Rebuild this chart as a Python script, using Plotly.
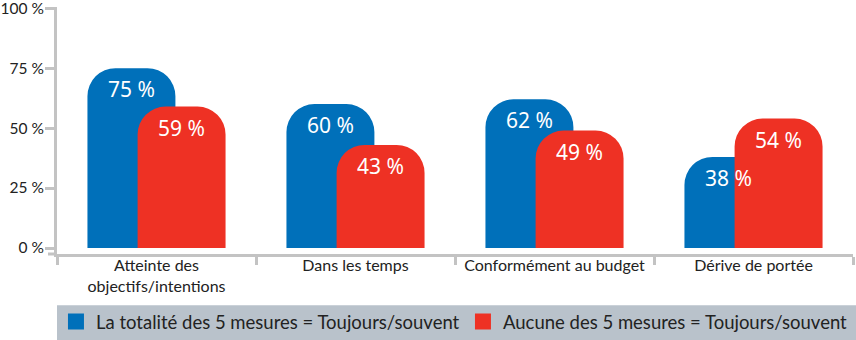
import plotly.graph_objects as go

categories = ["Atteinte des<br>objectifs/intentions", "Dans les temps",
              "Conformément au budget", "Dérive de portée"]
series_names = ["La totalité des 5 mesures = Toujours/souvent",
                "Aucune des 5 mesures = Toujours/souvent"]
blue_values = [75, 60, 62, 38]
red_values = [59, 43, 49, 54]
y_tick_values = [0, 25, 50, 75, 100]
y_tick_labels = ["0 %", "25 %", "50 %", "75 %", "100 %"]

BLUE = "#0070BA"
RED = "#EE3124"
AXIS = "#C3C3C3"
LEGEND_BG = "#B9C2CB"
FONT = "Lato"
LABEL_FONT = "Noto Sans"

BAR_W = 0.442
series = [(series_names[0], blue_values, BLUE, -0.347, "legend"),
          (series_names[1], red_values, RED, -0.095, "legend2")]

fig = go.Figure()
annotations = []
for name, vals, color, off, leg in series:
    fig.add_trace(go.Bar(
        x=categories, y=vals, name=name, showlegend=False,
        width=BAR_W, offset=off,
        marker=dict(color=color, line=dict(width=0), cornerradius=28),
        hoverinfo="x+y",
    ))
    fig.add_trace(go.Scatter(
        x=[None], y=[None], mode="markers", name=name, legend=leg,
        marker=dict(symbol="square", size=16, color=color),
    ))
    # px shift of bar centre from category centre (category width ~199 px)
    shift = (off + BAR_W / 2) * 199
    for c, v in zip(categories, vals):
        annotations.append(dict(
            x=c, y=v, xref="x", yref="y", text=f"{v} %", showarrow=False,
            xshift=shift, yshift=-21, yanchor="middle", xanchor="center",
            font=dict(color="white", size=21, family=LABEL_FONT),
        ))

leg_common = dict(orientation="h", yref="container", y=0.053, yanchor="middle",
                  xanchor="left", bgcolor="rgba(0,0,0,0)",
                  font=dict(size=18.5, color="#222222"), itemsizing="trace")

fig.update_layout(
    width=856, height=340,
    margin=dict(l=57, r=3, t=7, b=86, autoexpand=False),
    barmode="overlay",
    plot_bgcolor="white", paper_bgcolor="white",
    font=dict(family=FONT, color="#222222", size=14),
    showlegend=True,
    legend=dict(x=-0.0013, **leg_common),
    legend2=dict(x=0.510, **leg_common),
    annotations=annotations,
    shapes=[
        dict(type="rect", xref="paper", yref="paper", x0=0, x1=1.004, y0=-0.2073, y1=-0.36,
             fillcolor=LEGEND_BG, line=dict(width=0), layer="below"),
        dict(type="line", xref="paper", yref="paper", x0=-0.0113, x1=0, y0=0, y1=0,
             line=dict(color=AXIS, width=3)),
    ],
)
fig.update_xaxes(
    type="category", range=[-0.5, 3.5],
    showline=True, linecolor=AXIS, linewidth=3,
    ticks="outside", tickson="boundaries", ticklen=8, tickcolor=AXIS, tickwidth=3,
    tickfont=dict(size=16, color="#222222"), showgrid=False,
    ticklabelstandoff=-5,
)
fig.update_yaxes(
    range=[-2.5, 100.5], tickvals=y_tick_values, ticktext=y_tick_labels,
    showline=True, linecolor=AXIS, linewidth=3,
    ticks="outside", ticklen=9, tickcolor=AXIS, tickwidth=3,
    tickfont=dict(size=15.5, color="#222222"), showgrid=False, zeroline=False,
    ticklabeloverflow="allow", ticklabelstandoff=-2,
)
fig.write_html("out.html")
